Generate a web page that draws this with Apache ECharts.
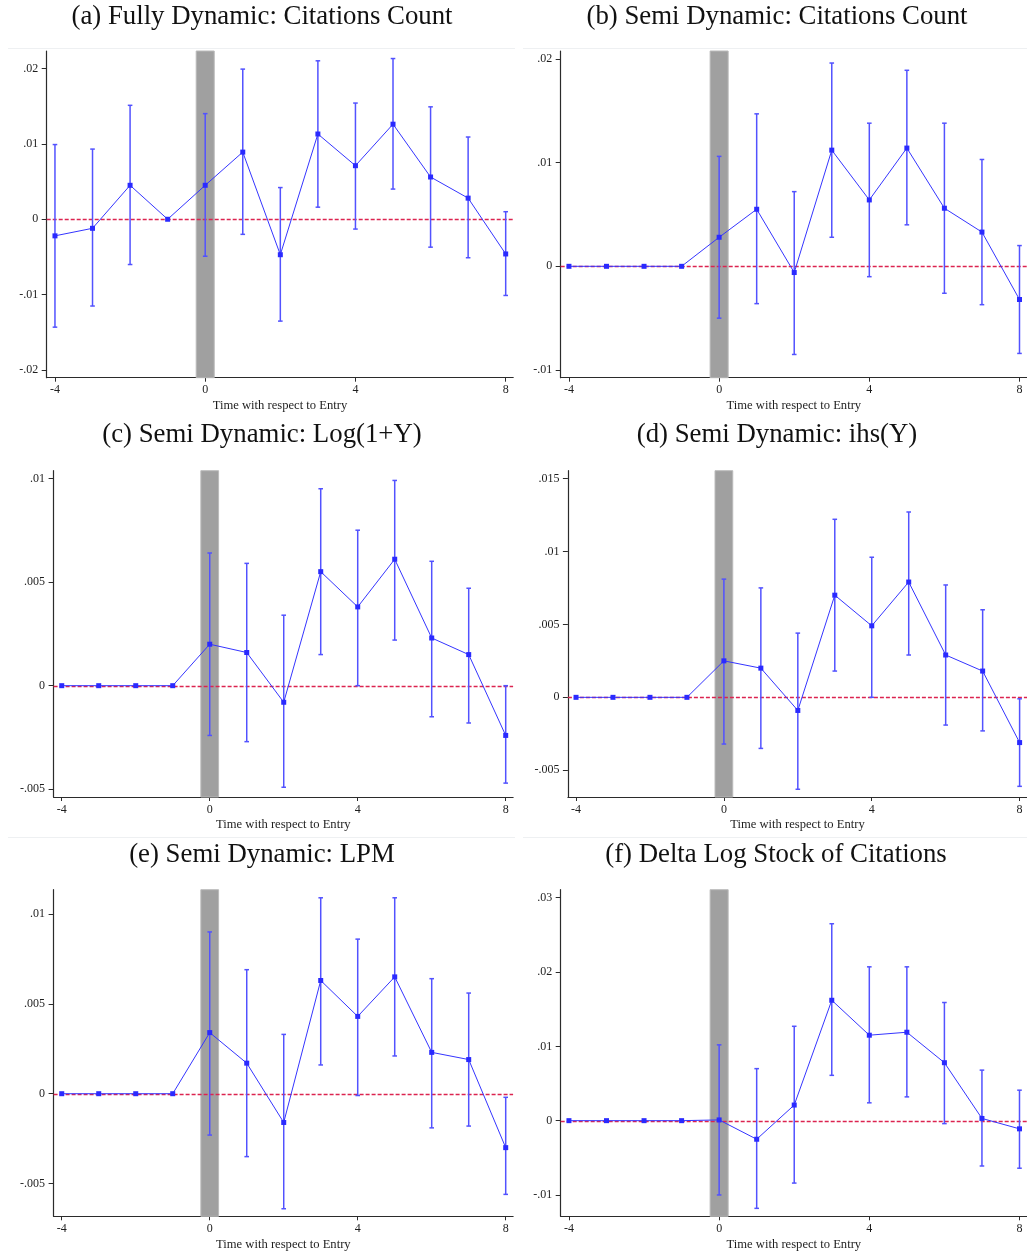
<!DOCTYPE html>
<html>
<head>
<meta charset="utf-8">
<script src="https://cdn.jsdelivr.net/npm/echarts@6/dist/echarts.min.js"></script>
<style>
html,body{margin:0;padding:0;background:#fff;}
#chart{width:1027px;height:1254px;}
</style>
</head>
<body>
<div id="chart"></div>
<script>
// ---------------- DATA ----------------
const periods = [-4, -3, -2, -1, 0, 1, 2, 3, 4, 5, 6, 7, 8];
const xTicks = [-4, 0, 4, 8];
const xAxisTitle = 'Time with respect to Entry';

const titles = [
  '(a) Fully Dynamic: Citations Count',
  '(b) Semi Dynamic: Citations Count',
  '(c) Semi Dynamic: Log(1+Y)',
  '(d) Semi Dynamic: ihs(Y)',
  '(e) Semi Dynamic: LPM',
  '(f) Delta Log Stock of Citations'
];

// (a) Fully dynamic: citations count
const aCoef = [-0.0022, -0.0012, 0.0045, 0, 0.0045, 0.0089, -0.0047, 0.0113, 0.0071, 0.0126, 0.0056, 0.0028, -0.0046];
const aLo   = [-0.0143, -0.0115, -0.0060, null, -0.0049, -0.0020, -0.0135, 0.0016, -0.0013, 0.0040, -0.0037, -0.0051, -0.0101];
const aHi   = [0.0099, 0.0093, 0.0151, null, 0.0140, 0.0199, 0.0042, 0.0210, 0.0154, 0.0213, 0.0149, 0.0109, 0.0010];
const aTicks = [-0.02, -0.01, 0, 0.01, 0.02];

// (b) Semi dynamic: citations count
const bCoef = [0, 0, 0, 0, 0.0028, 0.0055, -0.0006, 0.0112, 0.0064, 0.0114, 0.0056, 0.0033, -0.0032];
const bLo   = [null, null, null, null, -0.0050, -0.0036, -0.0085, 0.0028, -0.0010, 0.0040, -0.0026, -0.0037, -0.0084];
const bHi   = [null, null, null, null, 0.0106, 0.0147, 0.0072, 0.0196, 0.0138, 0.0189, 0.0138, 0.0103, 0.0020];
const bTicks = [-0.01, 0, 0.01, 0.02];

// (c) Semi dynamic: log(1+Y)
const cCoef = [0, 0, 0, 0, 0.0020, 0.0016, -0.0008, 0.0055, 0.0038, 0.0061, 0.0023, 0.0015, -0.0024];
const cLo   = [null, null, null, null, -0.0024, -0.0027, -0.0049, 0.0015, 0.0000, 0.0022, -0.0015, -0.0018, -0.0047];
const cHi   = [null, null, null, null, 0.0064, 0.0059, 0.0034, 0.0095, 0.0075, 0.0099, 0.0060, 0.0047, 0.0000];
const cTicks = [-0.005, 0, 0.005, 0.01];

// (d) Semi dynamic: ihs(Y)
const dCoef = [0, 0, 0, 0, 0.0025, 0.0020, -0.0009, 0.0070, 0.0049, 0.0079, 0.0029, 0.0018, -0.0031];
const dLo   = [null, null, null, null, -0.0032, -0.0035, -0.0063, 0.0018, 0.0000, 0.0029, -0.0019, -0.0023, -0.0061];
const dHi   = [null, null, null, null, 0.0081, 0.0075, 0.0044, 0.0122, 0.0096, 0.0127, 0.0077, 0.0060, -0.0001];
const dTicks = [-0.005, 0, 0.005, 0.01, 0.015];

// (e) Semi dynamic: LPM
const eCoef = [0, 0, 0, 0, 0.0034, 0.0017, -0.0016, 0.0063, 0.0043, 0.0065, 0.0023, 0.0019, -0.0030];
const eLo   = [null, null, null, null, -0.0023, -0.0035, -0.0064, 0.0016, -0.0001, 0.0021, -0.0019, -0.0018, -0.0056];
const eHi   = [null, null, null, null, 0.0090, 0.0069, 0.0033, 0.0109, 0.0086, 0.0109, 0.0064, 0.0056, -0.0002];
const eTicks = [-0.005, 0, 0.005, 0.01];

// (f) Delta log stock of citations
const fCoef = [0, 0, 0, 0, 0.0001, -0.0025, 0.0021, 0.0162, 0.0115, 0.0119, 0.0078, 0.0003, -0.0011];
const fLo   = [null, null, null, null, -0.0100, -0.0118, -0.0084, 0.0061, 0.0024, 0.0032, -0.0004, -0.0061, -0.0064];
const fHi   = [null, null, null, null, 0.0102, 0.0070, 0.0127, 0.0265, 0.0207, 0.0207, 0.0159, 0.0068, 0.0041];
const fTicks = [-0.01, 0, 0.01, 0.02, 0.03];

// entry window shaded band (x-range) and reference value
const bandRange = [-0.24, 0.24];
const refValue = 0;

// ---------------- LAYOUT / STYLE ----------------
const panels = [
  { coef: aCoef, lo: aLo, hi: aHi, ticks: aTicks, yMin: -0.0210, yMax: 0.0223, grid: { left: 46.7, top: 51, width: 466.5, height: 326.7 }, tx: 262, ty: 3 },
  { coef: bCoef, lo: bLo, hi: bHi, ticks: bTicks, yMin: -0.01074, yMax: 0.02076, grid: { left: 560.7, top: 51, width: 466.5, height: 326.7 }, tx: 777, ty: 3 },
  { coef: cCoef, lo: cLo, hi: cHi, ticks: cTicks, yMin: -0.00537, yMax: 0.01037, grid: { left: 53.6, top: 470.7, width: 459.5, height: 326.3 }, tx: 262, ty: 421.8 },
  { coef: dCoef, lo: dLo, hi: dHi, ticks: dTicks, yMin: -0.00683, yMax: 0.01553, grid: { left: 567.9, top: 470.7, width: 459.2, height: 326.3 }, tx: 777, ty: 421.8 },
  { coef: eCoef, lo: eLo, hi: eHi, ticks: eTicks, yMin: -0.00682, yMax: 0.01135, grid: { left: 53.6, top: 889.7, width: 459.5, height: 326.6 }, tx: 262, ty: 841.8 },
  { coef: fCoef, lo: fLo, hi: fHi, ticks: fTicks, yMin: -0.01287, yMax: 0.03108, grid: { left: 560.7, top: 889.7, width: 466.5, height: 326.6 }, tx: 776, ty: 841.8 }
];

const SERIF = '"Liberation Serif", "DejaVu Serif", serif';
const BLUE_LINE = '#3535ff';
const BLUE_BAR = '#5252ff';
const AXIS_COL = '#2b2b2b';
const TXT_COL = '#1e1e1e';

function fmtTick(v) {
  if (Math.abs(v) < 1e-12) return '0';
  const s = String(Math.abs(+v.toFixed(6))).replace(/^0/, '');
  return (v < 0 ? '-' : '') + s;
}

const option = {
  backgroundColor: '#ffffff',
  animation: false,
  title: [],
  grid: [],
  xAxis: [],
  yAxis: [],
  series: [],
  graphic: [
    { type: 'line', shape: { x1: 8, y1: 48.5, x2: 515, y2: 48.5 }, style: { stroke: '#eef0f2', lineWidth: 1 }, silent: true },
    { type: 'line', shape: { x1: 523, y1: 48.5, x2: 1027, y2: 48.5 }, style: { stroke: '#eef0f2', lineWidth: 1 }, silent: true },
    { type: 'line', shape: { x1: 8, y1: 837.5, x2: 515, y2: 837.5 }, style: { stroke: '#eef0f2', lineWidth: 1 }, silent: true },
    { type: 'line', shape: { x1: 523, y1: 837.5, x2: 1027, y2: 837.5 }, style: { stroke: '#eef0f2', lineWidth: 1 }, silent: true }
  ]
};

panels.forEach((p, i) => {
  option.title.push({
    text: titles[i],
    left: p.tx,
    top: p.ty,
    padding: 0,
    textAlign: 'center',
    textStyle: { fontFamily: SERIF, fontSize: 26.8, fontWeight: 'normal', color: '#111' }
  });
  option.grid.push(Object.assign({ containLabel: false }, p.grid));
  option.xAxis.push({
    type: 'value', gridIndex: i, min: -4.22, max: 8.2,
    name: xAxisTitle, nameLocation: 'middle', nameGap: 21.5,
    nameTextStyle: { fontFamily: SERIF, fontSize: 12.6, color: TXT_COL },
    axisLine: { show: true, onZero: false, lineStyle: { color: AXIS_COL, width: 1.2 } },
    axisTick: { show: true, length: 4, customValues: xTicks, lineStyle: { color: AXIS_COL } },
    axisLabel: { show: true, margin: 6.5, customValues: xTicks, fontFamily: SERIF, fontSize: 12, color: TXT_COL,
      formatter: v => String(v) },
    splitLine: { show: false }
  });
  option.yAxis.push({
    type: 'value', gridIndex: i, min: p.yMin, max: p.yMax,
    axisLine: { show: true, onZero: false, lineStyle: { color: AXIS_COL, width: 1.2 } },
    axisTick: { show: true, length: 5, customValues: p.ticks, lineStyle: { color: AXIS_COL } },
    axisLabel: { show: true, margin: 8.5, customValues: p.ticks, fontFamily: SERIF, fontSize: 12, color: TXT_COL,
      formatter: v => fmtTick(v) },
    splitLine: { show: false }
  });

  const lineData = periods.map((t, k) => [t, p.coef[k]]);
  const barData = [];
  periods.forEach((t, k) => {
    if (p.lo[k] !== null && p.hi[k] !== null) barData.push([t, p.lo[k], p.hi[k]]);
  });

  // shaded entry band (spans whole plot height)
  option.series.push({
    type: 'custom', xAxisIndex: i, yAxisIndex: i, z: 1, silent: true,
    data: [bandRange],
    encode: { x: [0, 1] },
    renderItem: function (params, api) {
      const cs = params.coordSys;
      const x0 = api.coord([api.value(0), 0])[0];
      const x1 = api.coord([api.value(1), 0])[0];
      return {
        type: 'rect',
        shape: { x: x0, y: cs.y, width: x1 - x0, height: cs.height },
        style: { fill: '#a0a0a0', stroke: '#bababa', lineWidth: 1 }
      };
    }
  });
  // zero reference line (dashed red, full width)
  option.series.push({
    type: 'custom', xAxisIndex: i, yAxisIndex: i, z: 2, silent: true,
    data: [[refValue]],
    encode: { y: 0 },
    renderItem: function (params, api) {
      const cs = params.coordSys;
      const y = Math.round(api.coord([0, api.value(0)])[1]) + 0.5;
      return {
        type: 'line',
        shape: { x1: cs.x, y1: y, x2: cs.x + cs.width, y2: y },
        style: { stroke: '#dc2450', lineWidth: 1.3, lineDash: [4, 2] }
      };
    }
  });
  // confidence intervals with caps
  option.series.push({
    type: 'custom', xAxisIndex: i, yAxisIndex: i, z: 3, silent: true,
    data: barData,
    encode: { x: 0, y: [1, 2] },
    renderItem: function (params, api) {
      const x = api.value(0);
      const top = api.coord([x, api.value(2)]);
      const bot = api.coord([x, api.value(1)]);
      const w = 2.3;
      const st = { stroke: BLUE_BAR, lineWidth: 1.5 };
      return {
        type: 'group',
        children: [
          { type: 'line', shape: { x1: top[0], y1: top[1], x2: bot[0], y2: bot[1] }, style: st },
          { type: 'line', shape: { x1: top[0] - w, y1: top[1], x2: top[0] + w, y2: top[1] }, style: st },
          { type: 'line', shape: { x1: bot[0] - w, y1: bot[1], x2: bot[0] + w, y2: bot[1] }, style: st }
        ]
      };
    }
  });
  // point estimates
  option.series.push({
    type: 'line', xAxisIndex: i, yAxisIndex: i, data: lineData, z: 4,
    symbol: 'rect', symbolSize: 5, showSymbol: true,
    lineStyle: { color: BLUE_LINE, width: 1 },
    itemStyle: { color: '#2a2aff' }
  });
});

const chart = echarts.init(document.getElementById('chart'), null, { renderer: 'canvas' });
chart.setOption(option);
</script>
</body>
</html>
